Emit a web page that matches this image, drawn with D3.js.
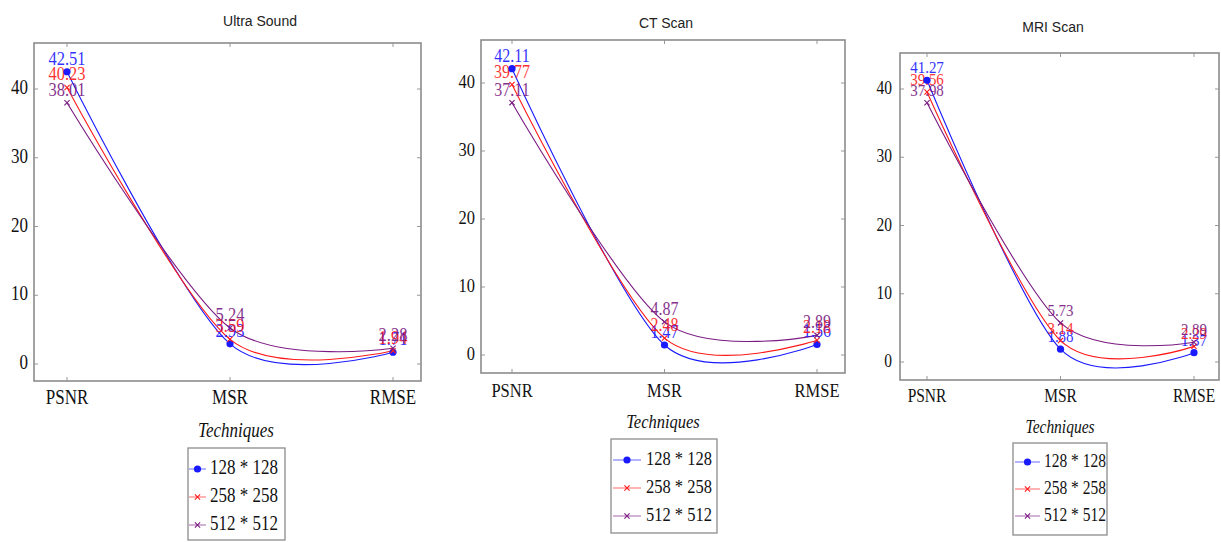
<!DOCTYPE html>
<html>
<head>
<meta charset="utf-8">
<script src="https://cdn.jsdelivr.net/npm/d3@7"></script>
<style>
  body { margin: 0; background: #fff; }
  svg { display: block; }
</style>
</head>
<body>
<div id="chart"></div>
<script>
// ─── data ───
var categories = ['PSNR', 'MSR', 'RMSE'];
var seriesNames = ['128 * 128', '258 * 258', '512 * 512'];
var yTicks = [0, 10, 20, 30, 40];
var panelTitles = ['Ultra Sound', 'CT Scan', 'MRI Scan'];
// one row per series: PSNR, MSR, RMSE
var ultraSound = [[42.51, 2.93, 1.71], [40.23, 3.59, 1.94], [38.01, 5.24, 2.28]];
var ctScan = [[42.11, 1.47, 1.56], [39.77, 2.48, 2.18], [37.11, 4.87, 2.89]];
var mriScan = [[41.27, 1.88, 1.37], [39.56, 3.14, 2.29], [37.98, 5.73, 2.89]];

var COLORS = ['#1a1aff', '#ff1a1a', '#7a1a82'];
var SERIF = 'Liberation Serif, DejaVu Serif, serif';
var SANS = 'Liberation Sans, Arial, sans-serif';

// layout per panel (pixel positions of the frame, tick anchors and legend)
var layout = [
  { frame: [34, 43, 421, 381], xr: [67, 393], yr: [364, 89], title: [260, 26], xlabY: 404, tickR: 28, fs: 17,
    leg: { cx: 236, ty: 437, box: [188, 448, 285, 540], rows: [474, 502, 530], s0: 189, s1: 206, tx: 210 } },
  { frame: [481, 40, 845, 373], xr: [512, 817], yr: [355, 83], title: [666, 28], xlabY: 397, tickR: 475, fs: 16.5,
    leg: { cx: 663, ty: 428, box: [611, 439, 717, 533], rows: [465, 493, 521], s0: 613, s1: 641, tx: 646 } },
  { frame: [900, 53, 1219, 380], xr: [927, 1194], yr: [362, 89], title: [1053, 32], xlabY: 402, tickR: 892, fs: 15.5,
    leg: { cx: 1060, ty: 433, box: [1013, 443, 1107, 535], rows: [467, 494, 521], s0: 1015, s1: 1040, tx: 1044 } }
];
var panelData = [ultraSound, ctScan, mriScan];

var svg = d3.select('#chart').append('svg').attr('width', 1221).attr('height', 542);
svg.append('rect').attr('width', 1221).attr('height', 542).attr('fill', '#fff');

function drawMark(g, i, x, y) {
  if (i === 0) {
    g.append('circle').attr('cx', x).attr('cy', y).attr('r', 3.6).attr('fill', COLORS[0]);
  } else {
    var s = 2.6;
    g.append('path').attr('d', 'M' + (x - s) + ',' + (y - s) + 'L' + (x + s) + ',' + (y + s) + 'M' + (x - s) + ',' + (y + s) + 'L' + (x + s) + ',' + (y - s))
      .attr('stroke', COLORS[i]).attr('stroke-width', 1.1);
  }
}

// vertically stretched serif text, as in the source picture
function stext(g, x, y, str, size, color, anchor, italic) {
  return g.append('text')
    .attr('transform', 'translate(' + x + ',' + y + ') scale(1,1.18)')
    .attr('text-anchor', anchor || 'start')
    .attr('font-family', SERIF).attr('font-size', size + 'px')
    .attr('font-style', italic ? 'italic' : 'normal')
    .attr('fill', color || '#111').text(str);
}

function drawPanel(p, rows, L) {
  var g = svg.append('g');
  var f = L.frame;
  var x = d3.scalePoint().domain(categories).range(L.xr);
  var y = d3.scaleLinear().domain([0, 40]).range(L.yr);

  // title
  g.append('text').attr('x', L.title[0]).attr('y', L.title[1]).attr('text-anchor', 'middle')
    .attr('font-family', SANS).attr('font-size', '14px').attr('fill', '#222').text(panelTitles[p]);

  // ticks inside the frame
  yTicks.forEach(function(t) {
    g.append('line').attr('x1', f[0]).attr('x2', f[0] + 4).attr('y1', y(t)).attr('y2', y(t)).attr('stroke', '#999');
    g.append('line').attr('x1', f[2] - 4).attr('x2', f[2]).attr('y1', y(t)).attr('y2', y(t)).attr('stroke', '#999');
    stext(g, L.tickR, y(t) + 5, t, L.fs, '#111', 'end');
  });
  categories.forEach(function(c) {
    g.append('line').attr('x1', x(c)).attr('x2', x(c)).attr('y1', f[3] - 4).attr('y2', f[3]).attr('stroke', '#999');
    g.append('line').attr('x1', x(c)).attr('x2', x(c)).attr('y1', f[1]).attr('y2', f[1] + 4).attr('stroke', '#999');
    stext(g, x(c), L.xlabY, c, L.fs, '#111', 'middle');
  });

  // curves
  var line = d3.line().x(function(d, i) { return x(categories[i]); }).y(function(d) { return y(d); })
    .curve(d3.curveCardinal.tension(0.12));
  rows.forEach(function(vals, i) {
    g.append('path').attr('d', line(vals)).attr('fill', 'none').attr('stroke', COLORS[i]).attr('stroke-width', 1.1);
  });
  // value labels
  rows.forEach(function(vals, i) {
    vals.forEach(function(v, j) {
      stext(g, x(categories[j]), y(v) - 7, v.toFixed(2), L.fs - 0.5, COLORS[i], 'middle').attr('opacity', 0.9);
    });
  });
  // markers
  rows.forEach(function(vals, i) {
    vals.forEach(function(v, j) { drawMark(g, i, x(categories[j]), y(v)); });
  });

  // frame
  g.append('rect').attr('x', f[0]).attr('y', f[1]).attr('width', f[2] - f[0]).attr('height', f[3] - f[1])
    .attr('fill', 'none').attr('stroke', '#8c8c8c').attr('stroke-width', 1.6);

  // legend
  var lg = L.leg;
  stext(g, lg.cx, lg.ty, 'Techniques', L.fs, '#111', 'middle', true);
  g.append('rect').attr('x', lg.box[0]).attr('y', lg.box[1]).attr('width', lg.box[2] - lg.box[0]).attr('height', lg.box[3] - lg.box[1])
    .attr('fill', '#fff').attr('stroke', '#8c8c8c').attr('stroke-width', 1.3);
  seriesNames.forEach(function(name, i) {
    var ry = lg.rows[i];
    g.append('line').attr('x1', lg.s0).attr('x2', lg.s1).attr('y1', ry - 5).attr('y2', ry - 5)
      .attr('stroke', COLORS[i]).attr('stroke-width', 1.1).attr('opacity', 0.6);
    drawMark(g, i, (lg.s0 + lg.s1) / 2, ry - 5);
    stext(g, lg.tx, ry, name, L.fs, '#111', 'start');
  });
}

layout.forEach(function(L, p) { drawPanel(p, panelData[p], L); });
</script>
</body>
</html>
